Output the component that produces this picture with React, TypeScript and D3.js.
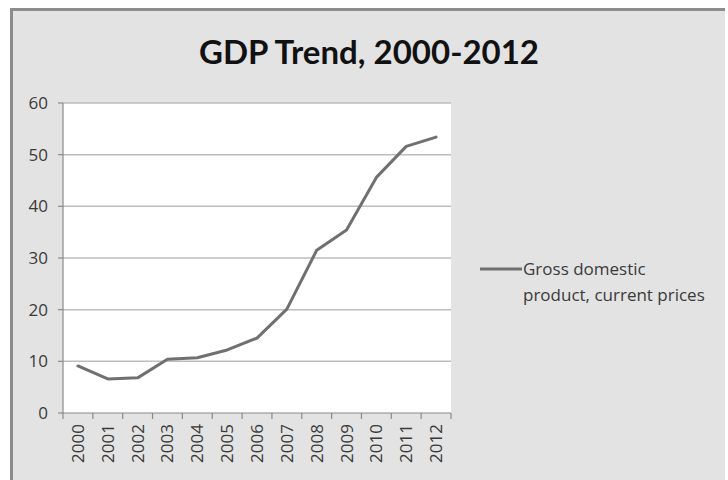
import React from "react";
import * as d3 from "d3";

const years = ["2000","2001","2002","2003","2004","2005","2006","2007","2008","2009","2010","2011","2012"];
const gdp = [9.1, 6.6, 6.8, 10.4, 10.7, 12.2, 14.5, 20.1, 31.5, 35.4, 45.6, 51.6, 53.4];
const yTicks = [0, 10, 20, 30, 40, 50, 60];
const title = "GDP Trend, 2000-2012";
const legendLines = ["Gross domestic", "product, current prices"];

export default function App() {
  const W = 728, H = 480;
  const left = 63, right = 451, top = 103, bottom = 413;
  const x = d3.scaleBand<string>().domain(years).range([left, right]);
  const y = d3.scaleLinear().domain([0, 60]).range([bottom, top]);
  const line = d3.line<number>()
    .x((_, i) => (x(years[i]) as number) + x.bandwidth() / 2)
    .y((d) => y(d));
  const font = "'Open Sans', sans-serif";
  const textCol = "#3a3a3a";
  return (
    <div style={{ position: "absolute", left: 0, top: 0 }}>
      <svg width={W} height={H} style={{ display: "block" }}>
        <rect x={0} y={0} width={W} height={H} fill="#ffffff" />
        <rect x={11} y={8} width={714} height={H - 8} fill="#e3e3e3" />
        <rect x={10} y={8} width={715} height={3} fill="#8c8c8c" />
        <rect x={10} y={8} width={3} height={H - 8} fill="#8c8c8c" />
        <text x={369} y={64} textAnchor="middle" fontFamily="Lato, sans-serif" fontWeight={700} fontSize={33} fill="#111">
          {title}
        </text>
        <rect x={left} y={top} width={right - left} height={bottom - top} fill="#ffffff" />
        {yTicks.map((t) => (
          <g key={t}>
            <line x1={left} x2={right} y1={y(t)} y2={y(t)} stroke={t === 0 ? "#8a8a8a" : "#bdbdbd"} strokeWidth={t === 0 ? 1.2 : 1.5} />
            <line x1={left - 5} x2={left} y1={y(t)} y2={y(t)} stroke="#8a8a8a" strokeWidth={1.2} />
            <text x={48} y={y(t) + 6} textAnchor="end" fontFamily={font} fontSize={17} fill={textCol}>{t}</text>
          </g>
        ))}
        <line x1={left} x2={left} y1={top} y2={bottom} stroke="#8a8a8a" strokeWidth={1.2} />
        {years.map((yr) => (
          <line key={"t" + yr} x1={(x(yr) as number)} x2={(x(yr) as number)} y1={bottom} y2={bottom + 6} stroke="#8a8a8a" strokeWidth={1.2} />
        ))}
        <line x1={right} x2={right} y1={bottom} y2={bottom + 6} stroke="#8a8a8a" strokeWidth={1.2} />
        {years.map((yr) => {
          const cx = (x(yr) as number) + x.bandwidth() / 2;
          return (
            <text key={yr} transform={`translate(${cx + 6},${424}) rotate(-90)`} textAnchor="end" fontFamily={font} fontSize={17} fill={textCol}>
              {yr}
            </text>
          );
        })}
        <path d={line(gdp) || ""} fill="none" stroke="#707070" strokeWidth={3} strokeLinejoin="round" strokeLinecap="round" />
        <line x1={480} x2={522} y1={269} y2={269} stroke="#707070" strokeWidth={3} />
        {legendLines.map((l, i) => (
          <text key={i} x={523} y={275 + i * 26} fontFamily={font} fontSize={17} fill={textCol}>{l}</text>
        ))}
      </svg>
    </div>
  );
}
